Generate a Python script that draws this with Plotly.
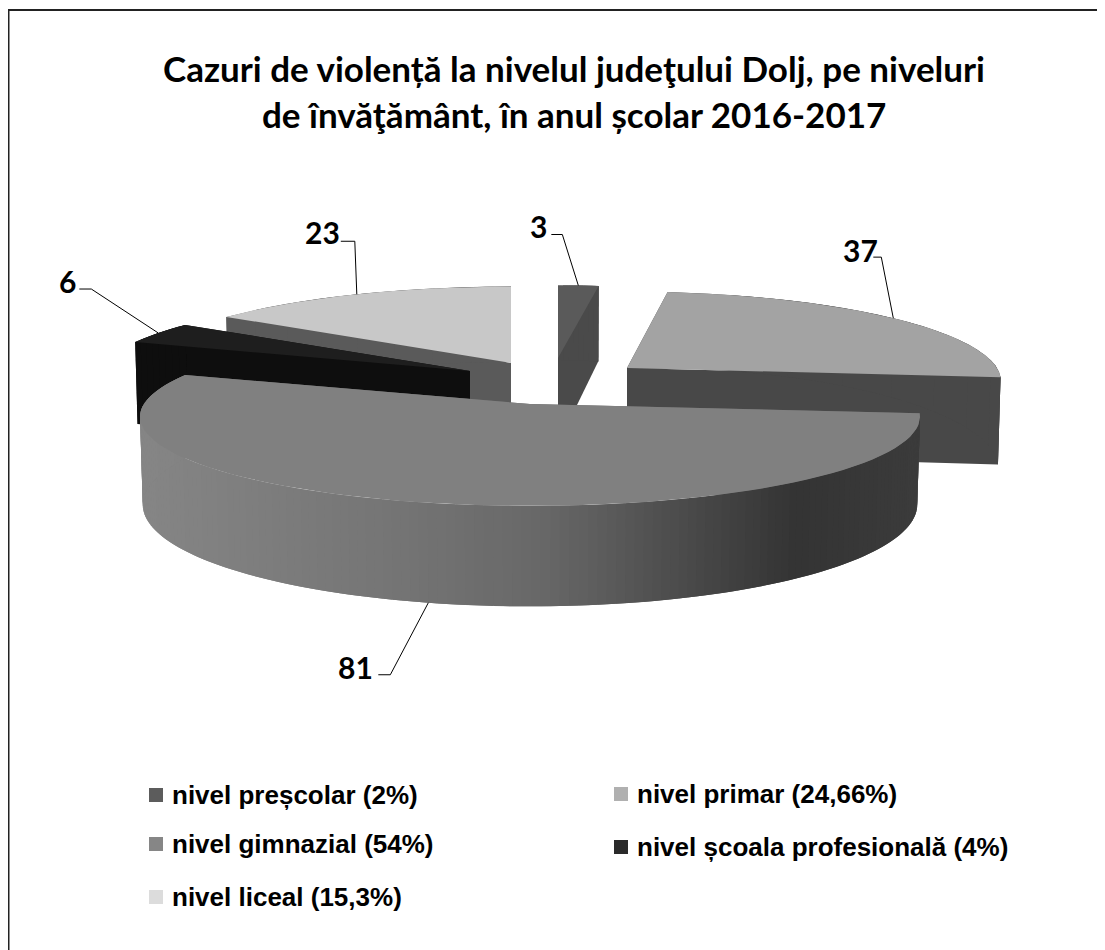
import numpy as np
import plotly.graph_objects as go

# ---- data ----
CATEGORIES = ["nivel preșcolar", "nivel primar", "nivel gimnazial", "nivel școala profesională", "nivel liceal"]
VALUES = [3, 37, 81, 6, 23]
LEGEND_LABELS = ["nivel preșcolar (2%)", "nivel primar (24,66%)", "nivel gimnazial (54%)",
                 "nivel școala profesională (4%)", "nivel liceal (15,3%)"]
TITLE_LINES = ["Cazuri de violență la nivelul judeţului Dolj, pe niveluri",
               "de învăţământ, în anul școlar 2016-2017"]

# ---- styles / projection of the exploded 3-D pie ----
TOP_COLORS = ["#5a5a5a", "#a3a3a3", "#808080", "#1e1e1e", "#c8c8c8"]
SIDE_COLORS = ["#4a4a4a", "#484848", "#666666", "#0e0e0e", "#5a5a5a"]
LEGEND_COLORS = ["#5c5c5c", "#b0b0b0", "#868686", "#2a2a2a", "#dcdcdc"]
CENTERS = [(558, 358), (627, 368), (530, 404), (470, 371), (511, 363)]
RADII_X = [370, 370, 386, 375, 375]
K_Y = [83, 87.4, 87.4, 87.4, 87.4]
PERSP = 0.143
DEPTH = 86
LABEL_POS = [(538, 226), (860, 250), (355, 667), (67, 281), (322, 232)]
ELBOW = [(-16, -51), (-12, -61), (-38, 72), (-67, -44), (-2, -53)]
STUB = [-11, -8, -12, -12, -14]
LEGEND_SQ = [(156, 795), (621, 794), (156, 844), (621, 847), (156, 897)]
LEGEND_TX = [170, 635, 170, 635, 170]


def project(i, theta, down=False):
    X, Y = np.sin(theta), np.cos(theta)
    s = 1 / (1 + PERSP * Y)
    cx, cy = CENTERS[i]
    f = 0.993 if down else 1.0
    x = cx + RADII_X[i] * X * s * f
    y = cy - K_Y[i] * Y * s + (DEPTH * s if down else 0)
    return x, y


def apex(i, down=False):
    cx, cy = CENTERS[i]
    return cx, cy + (DEPTH if down else 0)


def grad_gray(x):
    stops_x = [140, 400, 550, 800, 925]
    stops_g = [134, 117, 104, 52, 60]
    g = int(np.interp(x, stops_x, stops_g))
    return f"rgb({g},{g},{g})"


fig = go.Figure()


def poly(xs, ys, color):
    fig.add_trace(go.Scatter(x=list(xs), y=list(ys), mode="lines", fill="toself", fillcolor=color,
                             line=dict(color=color, width=0), hoverinfo="skip", showlegend=False))


total = sum(VALUES)
starts = np.cumsum([0] + VALUES[:-1]) / total * 2 * np.pi
ends = np.cumsum(VALUES) / total * 2 * np.pi
ORDER = [4, 3, 0, 1, 2]

for i in ORDER:
    t0, t1 = starts[i], ends[i]
    # cut faces
    for t in (t0, t1):
        ax, ay = apex(i)
        bx, by = apex(i, True)
        px, py = project(i, t)
        qx, qy = project(i, t, True)
        col = SIDE_COLORS[i]
        if i == 4 and t == t1:
            col = "#d8d8d8"
        poly([ax, px, qx, bx], [ay, py, qy, by], col)
    # outer wall, strip by strip; each strip overlaps the next so no seams show
    n = 160 if i == 2 else 8
    ts = np.linspace(t0, t1, n + 1)
    for k in range(n):
        a, b = ts[k], ts[min(k + 2, n)]
        sub = np.linspace(a, b, 4)
        px, py = project(i, sub)
        qx, qy = project(i, sub, True)
        mx = project(i, ts[k])[0]
        col = grad_gray(mx) if i == 2 else SIDE_COLORS[i]
        poly(np.r_[px, qx[::-1]], np.r_[py, qy[::-1]], col)
    # top face
    tt = np.linspace(t0, t1, 80)
    xs, ys = project(i, tt)
    ax, ay = apex(i)
    poly(np.r_[ax, xs], np.r_[ay, ys], TOP_COLORS[i])

# leader lines and data labels
annotations = []
for i in range(5):
    mid = (starts[i] + ends[i]) / 2
    x, y = project(i, mid, down=(i == 2))
    ex, ey = x + ELBOW[i][0], y + ELBOW[i][1]
    fig.add_trace(go.Scatter(x=[x, ex, ex + STUB[i]], y=[y, ey, ey], mode="lines",
                             line=dict(color="black", width=1), hoverinfo="skip", showlegend=False))
    annotations.append(dict(x=LABEL_POS[i][0], y=LABEL_POS[i][1], text=f"<b>{VALUES[i]}</b>", showarrow=False,
                            font=dict(family="Lato", size=30, color="black")))

# legend
for i in range(5):
    fig.add_trace(go.Scatter(x=[LEGEND_SQ[i][0]], y=[LEGEND_SQ[i][1]], mode="markers",
                             marker=dict(symbol="square", size=14, color=LEGEND_COLORS[i], line=dict(width=0)),
                             hoverinfo="skip", showlegend=False))
    annotations.append(dict(x=LEGEND_TX[i], y=LEGEND_SQ[i][1], xanchor="left", text=f"<b>{LEGEND_LABELS[i]}</b>",
                            showarrow=False, font=dict(family="Liberation Sans", size=26, color="black")))

for line, y in zip(TITLE_LINES, (68, 114)):
    annotations.append(dict(x=573.5, y=y, text=f"<b>{line}</b>", showarrow=False,
                            font=dict(family="Lato", size=35, color="black")))

# the page body has an 8 px margin: the figure fills the rest of the window
fig.update_layout(
    width=1097, height=942, margin=dict(l=0, r=0, t=0, b=0), autosize=False,
    paper_bgcolor="white", plot_bgcolor="white", showlegend=False,
    xaxis=dict(range=[8, 1105], visible=False, fixedrange=True),
    yaxis=dict(range=[950, 8], visible=False, fixedrange=True),
    annotations=annotations,
    shapes=[dict(type="rect", xref="x", yref="y", x0=8.5, y0=10, x1=1300, y1=1200,
                 line=dict(color="#222222", width=2), layer="below")],
)
fig.write_html("out.html", config={"displayModeBar": False})
